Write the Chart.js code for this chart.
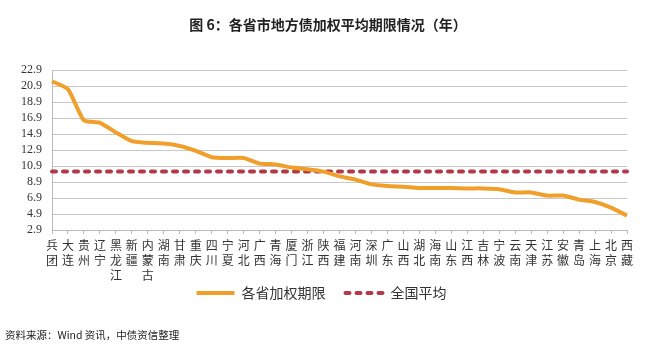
<!DOCTYPE html>
<html>
<head>
<meta charset="utf-8">
<script src="https://cdn.jsdelivr.net/npm/chart.js@4/dist/chart.umd.min.js"></script>
<style>
  html, body { margin: 0; padding: 0; background: #fff; }
  #wrap { position: relative; width: 646px; height: 354px; overflow: hidden; }
  #chart { position: absolute; left: 0; top: 0; }
  .title {
    position: absolute; left: 0; width: 656px; top: 14px; text-align: center;
    font: bold 14px "Noto Sans CJK SC", sans-serif; color: #222;
  }
  .source {
    position: absolute; left: 5px; top: 327px;
    font: 10.5px "Noto Sans CJK SC", serif; color: #222;
  }
</style>
</head>
<body>
<div id="wrap">
  <canvas id="chart" width="646" height="354"></canvas>
  <div class="title">图 6：各省市地方债加权平均期限情况（年）</div>
  <div class="source">资料来源：Wind 资讯，中债资信整理</div>
</div>
<script>
// categories (provinces / cities), shown as vertical stacked characters
const regions = ['兵团', '大连', '贵州', '辽宁', '黑龙江', '新疆', '内蒙古', '湖南', '甘肃', '重庆',
  '四川', '宁夏', '河北', '广西', '青海', '厦门', '浙江', '陕西', '福建', '河南',
  '深圳', '广东', '山西', '湖北', '海南', '山东', '江西', '吉林', '宁波', '云南',
  '天津', '江苏', '安徽', '青岛', '上海', '北京', '西藏'];

// weighted average maturity by region (years)
const weightedTerm = [21.5, 20.5, 16.6, 16.3, 15.1, 14.0, 13.8, 13.7, 13.4, 12.8,
  12.0, 11.9, 11.9, 11.2, 11.1, 10.7, 10.5, 10.2, 9.6, 9.2,
  8.6, 8.4, 8.3, 8.15, 8.15, 8.15, 8.1, 8.1, 8.0, 7.6,
  7.6, 7.2, 7.2, 6.7, 6.4, 5.7, 4.7];

// national average
const nationalAvg = 10.2;

const yTicks = ['2.9', '4.9', '6.9', '8.9', '10.9', '12.9', '14.9', '16.9', '18.9', '20.9', '22.9'];

const labels = regions.map(r => r.split(''));
const avgLine = regions.map(() => nationalAvg);

// move the legend up/right a bit so it sits where the original one is
const legendShift = {
  id: 'legendShift',
  afterLayout(chart) {
    const lg = chart.legend;
    lg.top -= 20; lg.bottom -= 20;
    lg.left += 8; lg.right += 8;
  }
};

const ctx = document.getElementById('chart').getContext('2d');
new Chart(ctx, {
  type: 'line',
  data: {
    labels: labels,
    datasets: [{
      label: '各省加权期限',
      data: weightedTerm,
      borderColor: '#F0A02A',
      backgroundColor: '#F0A02A',
      borderWidth: 4,
      pointRadius: 0,
      tension: 0.2,
      fill: false,
    }, {
      label: '全国平均',
      data: avgLine,
      borderColor: '#B23A48',
      backgroundColor: '#B23A48',
      borderWidth: 4,
      borderDash: [4, 7],
      borderCapStyle: 'round',
      pointRadius: 0,
      fill: false,
    }],
  },
  options: {
    responsive: false,
    animation: false,
    layout: { padding: { top: 70, left: 0, right: 19, bottom: 24 } },
    plugins: {
      title: { display: false },
      tooltip: { enabled: false },
      legend: {
        position: 'bottom',
        labels: {
          usePointStyle: true,
          pointStyle: 'line',
          pointStyleWidth: 38,
          padding: 20,
          color: '#333',
          font: { family: '"Noto Sans CJK SC"', size: 14 },
          generateLabels: (chart) => {
            const items = Chart.defaults.plugins.legend.labels.generateLabels(chart);
            items.forEach(it => {
              const ds = chart.data.datasets[it.datasetIndex];
              it.lineDash = ds.borderDash || [];
              it.lineCap = ds.borderCapStyle || 'butt';
              it.lineWidth = ds.borderWidth;
            });
            return items;
          },
        },
      },
    },
    scales: {
      x: {
        offset: false,
        afterFit: s => { s.height = 56; },
        grid: { drawOnChartArea: false, drawTicks: true, tickLength: 4, color: '#BBBBBB' },
        border: { color: '#BBBBBB' },
        ticks: {
          autoSkip: false,
          maxRotation: 0,
          minRotation: 0,
          padding: 4,
          color: '#333',
          font: { family: '"Noto Sans CJK SC"', size: 12, lineHeight: 1.25 },
        },
      },
      y: {
        min: 2.9,
        max: 22.9,
        afterFit: s => { s.width = 52; },
        grid: { color: '#C8C8C8', drawTicks: false },
        border: { color: '#BBBBBB' },
        ticks: {
          stepSize: 2,
          autoSkip: false,
          padding: 10,
          color: '#333',
          font: { family: '"Liberation Serif"', size: 12 },
          callback: (v) => {
            const t = v.toFixed(1);
            return yTicks.includes(t) ? t : null;
          },
        },
      },
    },
  },
  plugins: [legendShift],
});
</script>
</body>
</html>
